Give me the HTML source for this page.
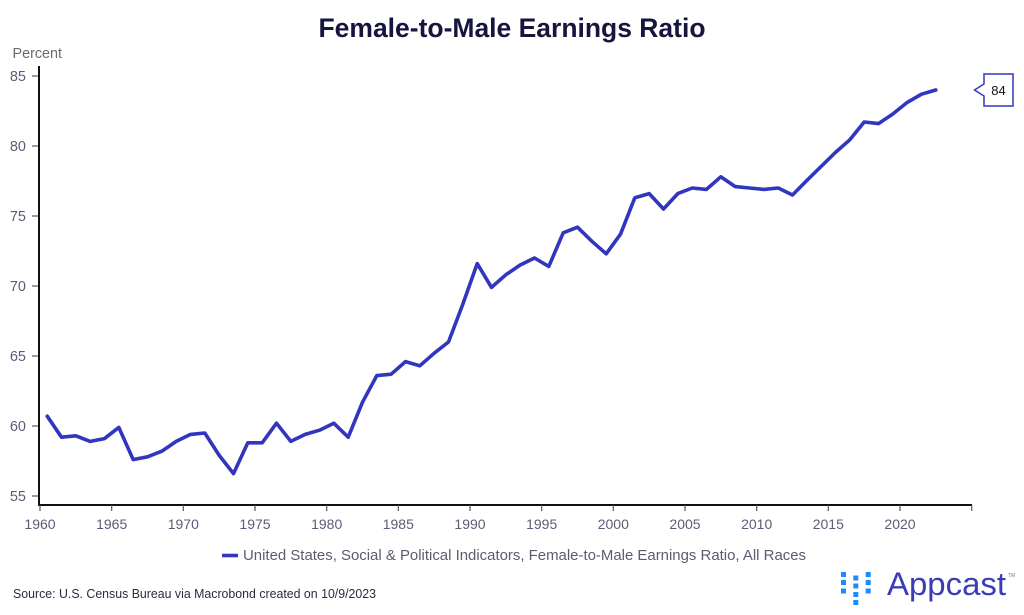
<!DOCTYPE html>
<html><head><meta charset="utf-8"><style>
html,body{margin:0;padding:0;background:#fff;}
svg{display:block;}
text{font-family:"Liberation Sans",sans-serif;}
</style></head><body>
<svg width="1024" height="615" viewBox="0 0 1024 615" xmlns="http://www.w3.org/2000/svg">
<rect width="1024" height="615" fill="#fff"/>
<text x="512" y="37" text-anchor="middle" font-size="27" font-weight="bold" fill="#15153d" textLength="387" lengthAdjust="spacingAndGlyphs">Female-to-Male Earnings Ratio</text>
<text x="12.5" y="58" font-size="14.5" fill="#6a6a72" textLength="49.5" lengthAdjust="spacingAndGlyphs">Percent</text>
<g font-size="14.5" fill="#5c5c78" text-anchor="end">
<text x="26" y="81">85</text>
<text x="26" y="151">80</text>
<text x="26" y="221">75</text>
<text x="26" y="291">70</text>
<text x="26" y="361">65</text>
<text x="26" y="431">60</text>
<text x="26" y="501">55</text>
</g>
<g stroke="#555566" stroke-width="1.2">
<line x1="32" y1="76" x2="38" y2="76"/><line x1="32" y1="146" x2="38" y2="146"/><line x1="32" y1="216" x2="38" y2="216"/><line x1="32" y1="286" x2="38" y2="286"/><line x1="32" y1="356" x2="38" y2="356"/><line x1="32" y1="426" x2="38" y2="426"/><line x1="32" y1="496" x2="38" y2="496"/>
</g>
<line x1="39" y1="66" x2="39" y2="506" stroke="#111" stroke-width="2"/>
<line x1="38" y1="505" x2="972" y2="505" stroke="#111" stroke-width="2"/>
<g stroke="#555566" stroke-width="1.2">
<line x1="40" y1="505" x2="40" y2="511"/><line x1="111.7" y1="505" x2="111.7" y2="511"/><line x1="183.3" y1="505" x2="183.3" y2="511"/><line x1="255" y1="505" x2="255" y2="511"/><line x1="326.7" y1="505" x2="326.7" y2="511"/><line x1="398.3" y1="505" x2="398.3" y2="511"/><line x1="470" y1="505" x2="470" y2="511"/><line x1="541.7" y1="505" x2="541.7" y2="511"/><line x1="613.3" y1="505" x2="613.3" y2="511"/><line x1="685" y1="505" x2="685" y2="511"/><line x1="756.7" y1="505" x2="756.7" y2="511"/><line x1="828.3" y1="505" x2="828.3" y2="511"/><line x1="900" y1="505" x2="900" y2="511"/><line x1="971.7" y1="505" x2="971.7" y2="511"/>
</g>
<g font-size="14" fill="#5c5c78" text-anchor="middle">
<text x="40" y="529">1960</text><text x="111.7" y="529">1965</text><text x="183.3" y="529">1970</text><text x="255" y="529">1975</text><text x="326.7" y="529">1980</text><text x="398.3" y="529">1985</text><text x="470" y="529">1990</text><text x="541.7" y="529">1995</text><text x="613.3" y="529">2000</text><text x="685" y="529">2005</text><text x="756.7" y="529">2010</text><text x="828.3" y="529">2015</text><text x="900" y="529">2020</text>
</g>
<polyline fill="none" stroke="#3236be" stroke-width="3.6" stroke-linejoin="round" stroke-linecap="round" points="47.2,416.2 61.5,437.2 75.8,435.8 90.2,441.4 104.5,438.6 118.8,427.4 133.2,459.6 147.5,456.8 161.8,451.2 176.2,441.4 190.5,434.4 204.8,433.0 219.2,455.4 233.5,473.6 247.8,442.8 262.2,442.8 276.5,423.2 290.8,441.4 305.2,434.4 319.5,430.2 333.8,423.2 348.2,437.2 362.5,402.2 376.8,375.6 391.2,374.2 405.5,361.6 419.8,365.8 434.2,353.2 448.5,342.0 462.8,304.2 477.2,263.6 491.5,287.4 505.8,274.8 520.2,265.0 534.5,258.0 548.8,266.4 563.2,232.8 577.5,227.2 591.8,241.2 606.2,253.8 620.5,234.2 634.8,197.8 649.2,193.6 663.5,209.0 677.8,193.6 692.2,188.0 706.5,189.4 720.8,176.8 735.2,186.6 749.5,188.0 763.8,189.4 778.2,188.0 792.5,195.0 806.8,180.5 821.2,166.4 835.5,152.4 849.8,139.8 864.2,122.0 878.5,123.6 892.8,114.0 907.2,102.4 921.5,94.2 935.8,90.0"/>
<path d="M984,74 H1013 V106 H984 V96 L974.5,90 L984,84 Z" fill="#fff" stroke="#3236be" stroke-width="1.5"/>
<text x="998.5" y="95" text-anchor="middle" font-size="13" fill="#111">84</text>
<line x1="222" y1="555.5" x2="238" y2="555.5" stroke="#3236be" stroke-width="3.6"/>
<text x="243" y="560" font-size="15" fill="#5c5c70" textLength="563" lengthAdjust="spacingAndGlyphs">United States, Social &amp; Political Indicators, Female-to-Male Earnings Ratio, All Races</text>
<text x="13" y="598" font-size="13" fill="#2a2a44" textLength="363" lengthAdjust="spacingAndGlyphs">Source: U.S. Census Bureau via Macrobond created on 10/9/2023</text>
<g fill="#1a8cff">
<rect x="841" y="572" width="5" height="5"/><rect x="841" y="580" width="5" height="5"/><rect x="841" y="588.5" width="5" height="5"/>
<rect x="853.3" y="575.5" width="5" height="5"/><rect x="853.3" y="583.5" width="5" height="5"/><rect x="853.3" y="592" width="5" height="5"/><rect x="853.3" y="600" width="5" height="5"/>
<rect x="865.7" y="572" width="5" height="5"/><rect x="865.7" y="580" width="5" height="5"/><rect x="865.7" y="588.5" width="5" height="5"/>
</g>
<text x="887" y="595" font-size="32" fill="#3a3cb8" textLength="119" lengthAdjust="spacingAndGlyphs">Appcast</text>
<text x="1008" y="577" font-size="5" fill="#777">TM</text>
</svg>
</body></html>
